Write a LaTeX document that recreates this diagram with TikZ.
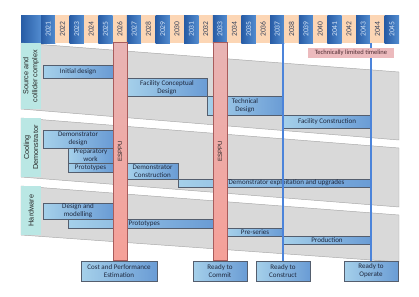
\documentclass[tikz,border=0pt]{standalone}
\usepackage{fontspec}
\setmainfont{Carlito}
\newfontfamily\bandfont{Liberation Sans}
\usetikzlibrary{positioning}

\definecolor{hdrblueL}{RGB}{40,92,165}
\definecolor{hdrblueR}{RGB}{82,140,208}
\definecolor{hdrpeach}{RGB}{252,214,181}
\definecolor{yrlight}{RGB}{208,224,244}
\definecolor{yrdark}{RGB}{58,68,92}
\definecolor{bandgray}{RGB}{217,217,217}
\definecolor{bandedge}{RGB}{168,168,168}
\definecolor{labcyan}{RGB}{186,231,228}
\definecolor{taskL}{RGB}{165,208,234}
\definecolor{taskR}{RGB}{106,156,213}
\definecolor{taskedge}{RGB}{84,94,110}
\definecolor{esppuT}{RGB}{232,180,180}
\definecolor{esppuB}{RGB}{245,160,152}
\definecolor{esppuedge}{RGB}{168,92,92}
\definecolor{gateblue}{RGB}{76,132,218}
\definecolor{limitpink}{RGB}{236,186,189}
\definecolor{inktext}{RGB}{30,40,62}

% a task bar given by its two corners (in pixels of the picture)
\newcommand{\taskbox}[6]{%
  \node[task, minimum width={(#4-#2)*0.03cm}, minimum height={(#5-#3)*0.03cm}]
    (#1) at ({(#2+#4)/2},{(#3+#5)/2}) {#6};}

\begin{document}
\begin{tikzpicture}[
  x=0.03cm, y=-0.03cm,
  every node/.style={font=\fontsize{6}{6.8}\selectfont, text=inktext},
  bluecell/.style={left color=hdrblueL, right color=hdrblueR},
  peachcell/.style={fill=hdrpeach},
  yeartext/.style={rotate=90, inner sep=0pt, font=\fontsize{6.5}{7}\selectfont},
  band/.style={fill=bandgray, draw=bandedge, line width=0.4pt},
  bandlabel/.style={fill=labcyan, rotate=90, inner sep=0pt, align=center,
    minimum height=20*0.03cm, text=black!85,
    font=\bandfont\fontsize{6.2}{7.6}\selectfont},
  task/.style={draw=taskedge, line width=0.5pt, left color=taskL,
    right color=taskR, inner sep=0pt, align=center},
  esppu/.style={draw=esppuedge, line width=0.4pt, top color=esppuT,
    bottom color=esppuB, inner sep=0pt, minimum width=14*0.03cm,
    minimum height=218*0.03cm, text=black!85,
    font=\bandfont\fontsize{5.2}{6}\selectfont},
  gate/.style={color=gateblue, line width=0.9pt},
  limit/.style={fill=limitpink, inner sep=0pt, minimum width=86*0.03cm,
    minimum height=10*0.03cm, text={rgb,255:red,78;green,44;blue,50},
    font=\fontsize{5.6}{6}\selectfont}]

\useasboundingbox (0,0) rectangle (419,296);

% ---- the header of years -------------------------------------------------
\path[bluecell] (21,15) rectangle (41,43);
\foreach \yr [count=\k from 0] in {2021,...,2045}{
  \pgfmathsetmacro{\xl}{41+14.32*\k}
  \ifodd\k\relax
    \path[peachcell] (\xl,15) rectangle ++(14.32,28);
    \node[yeartext, text=yrdark] (y\yr) at (\xl+7.16,29) {\yr};
  \else
    \path[bluecell] (\xl,15) rectangle ++(14.32,28);
    \node[yeartext, text=yrlight] (y\yr) at (\xl+7.16,29) {\yr};
  \fi
}

% ---- the three sloping bands ---------------------------------------------
\draw[band] (21,43)  -- (399,72)  -- (399,140) -- (21,109) -- cycle;
\draw[band] (21,118) -- (399,148) -- (399,207) -- (21,177) -- cycle;
\draw[band] (21,186) -- (399,215) -- (399,262) -- (21,235) -- cycle;

\node[bandlabel, minimum width=66*0.03cm] (lsrc)  at (31,76)    {Source and\\collider complex};
\node[bandlabel, minimum width=59*0.03cm] (lcool) at (31,147.5) {Cooling\\Demonstrator};
\node[bandlabel, minimum width=49*0.03cm] (lhw)   at (31,210.5) {Hardware};

% ---- source and collider complex -----------------------------------------
\taskbox{init}{43}{65}{113}{78}{Initial design}
\taskbox{fcd}{127}{78}{207}{96.5}{Facility Conceptual\\Design}
\taskbox{tdr}{207}{96.5}{283}{115}{Technical\\Design}
\taskbox{fcon}{283}{115}{371}{128}{Facility Construction}

% ---- cooling demonstrator ------------------------------------------------
\taskbox{ddes}{43}{130}{113}{148}{Demonstrator\\design}
\taskbox{prep}{68}{148}{113}{163}{Preparatory\\work}
\taskbox{dproto}{68}{163}{113}{172}{Prototypes}
\taskbox{dcon}{127}{163}{178}{179}{Demonstrator\\Construction}
\taskbox{dexp}{178}{179}{371}{187}{}

% ---- hardware ------------------------------------------------------------
\taskbox{dmod}{43}{203}{113}{219}{Design and\\modelling}
\taskbox{hproto}{68}{219}{213}{228}{}
\taskbox{preser}{227}{228}{283}{236}{Pre-series}
\taskbox{prod}{283}{236}{371}{244}{Production}

% ---- milestones ----------------------------------------------------------
\taskbox{cpe}{81}{261}{157}{281}{Cost and Performance\\Estimation}
\taskbox{commit}{193}{261}{247}{281}{Ready to\\Commit}
\taskbox{construct}{256}{261}{310}{281}{Ready to\\Construct}
\taskbox{operate}{344}{261}{398}{281}{Ready to\\Operate}

% ---- the two strategy updates --------------------------------------------
\node[esppu, above=0pt of cpe, xshift=1*0.03cm] (esppuA) {\rotatebox{90}{ESPPU}};
\node[esppu, above=0pt of commit] (esppuB) {\rotatebox{90}{ESPPU}};

\node[anchor=west, inner sep=0pt] (dexpt) at ([xshift=1pt]esppuB.east |- dexp.center)
  {Demonstrator exploitation and upgrades};
\node[anchor=west, inner sep=0pt] (hprotot) at ([xshift=1pt]esppuA.east |- hproto.center)
  {Prototypes};

% ---- the gates -----------------------------------------------------------
\coordinate (gc) at (283,43);
\coordinate (go) at (371,43);
\draw[gate] (gc) -- (construct.north);
\draw[gate] (go) -- (operate.north);

\node[limit] (tlt) at (351,53) {Technically limited timeline};

\end{tikzpicture}
\end{document}
